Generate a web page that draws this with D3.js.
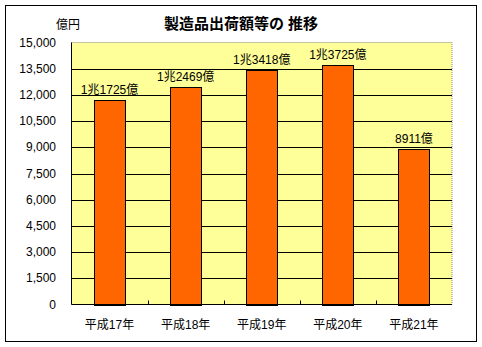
<!DOCTYPE html>
<html>
<head>
<meta charset="utf-8">
<script src="https://cdn.jsdelivr.net/npm/d3@7"></script>
<style>
body { margin: 0; background: #fff; }
svg text { font-family: "Liberation Sans", "Noto Sans CJK JP", sans-serif; }
</style>
</head>
<body>
<svg id="chart"></svg>
<script>
const width = 482;
const height = 347;

const categories = ["平成17年", "平成18年", "平成19年", "平成20年", "平成21年"];
const values = [11725, 12469, 13418, 13725, 8911];
const valueLabels = ["1兆1725億", "1兆2469億", "1兆3418億", "1兆3725億", "8911億"];
const yTicks = [0, 1500, 3000, 4500, 6000, 7500, 9000, 10500, 12000, 13500, 15000];

const svg = d3.select("#chart")
    .attr("width", width)
    .attr("height", height);

// outer frame
svg.append("rect")
    .attr("x", 5.5).attr("y", 5.5)
    .attr("width", 471).attr("height", 336)
    .attr("fill", "#fff")
    .attr("stroke", "#000");

const plot = { left: 71.5, top: 42.5, right: 452, bottom: 304.5 };

const x = d3.scaleBand()
    .domain(categories)
    .range([plot.left, plot.right])
    .paddingInner(0.59)
    .paddingOuter(0.295);

const xOuter = d3.scaleBand()
    .domain(categories)
    .range([plot.left, plot.right]);

const y = d3.scaleLinear()
    .domain([0, 15000])
    .range([plot.bottom, plot.top]);

// plot background
svg.append("rect")
    .attr("x", plot.left).attr("y", plot.top)
    .attr("width", plot.right - plot.left)
    .attr("height", plot.bottom - plot.top)
    .attr("fill", "#ffff99")
    .attr("stroke", "#888")
    .attr("stroke-dasharray", "1,1");

// gridlines
svg.selectAll(".grid")
    .data(yTicks.slice(1, -1))
    .enter().append("line")
    .attr("x1", plot.left).attr("x2", plot.right)
    .attr("y1", d => Math.round(y(d)) + 0.5)
    .attr("y2", d => Math.round(y(d)) + 0.5)
    .attr("stroke", "#000");

// bars
svg.selectAll(".bar")
    .data(values)
    .enter().append("rect")
    .attr("x", (d, i) => Math.round(x(categories[i])) + 0.5)
    .attr("y", d => Math.round(y(d)) + 0.5)
    .attr("width", Math.round(x.bandwidth()))
    .attr("height", d => Math.round(y(0)) - Math.round(y(d)))
    .attr("fill", "#ff6600")
    .attr("stroke", "#000");

// value labels
svg.selectAll(".vlabel")
    .data(values)
    .enter().append("text")
    .attr("x", (d, i) => x(categories[i]) + x.bandwidth() / 2)
    .attr("y", d => y(d) - 6)
    .attr("text-anchor", "middle")
    .attr("font-size", 12)
    .text((d, i) => valueLabels[i]);

// axes lines
svg.append("line")
    .attr("x1", plot.left).attr("x2", plot.left)
    .attr("y1", plot.top).attr("y2", plot.bottom)
    .attr("stroke", "#000");
svg.append("line")
    .attr("x1", plot.left).attr("x2", plot.right)
    .attr("y1", plot.bottom).attr("y2", plot.bottom)
    .attr("stroke", "#000");

// inward ticks between categories
svg.selectAll(".xtick")
    .data(categories.slice(1))
    .enter().append("line")
    .attr("x1", d => Math.round(xOuter(d)) + 0.5)
    .attr("x2", d => Math.round(xOuter(d)) + 0.5)
    .attr("y1", plot.bottom).attr("y2", plot.bottom - 4)
    .attr("stroke", "#000");

// y tick labels
svg.selectAll(".ylabel")
    .data(yTicks)
    .enter().append("text")
    .attr("x", 56)
    .attr("y", d => y(d) + 4)
    .attr("text-anchor", "end")
    .attr("font-size", 12)
    .text(d => d3.format(",")(d));

// x labels
svg.selectAll(".xlabel")
    .data(categories)
    .enter().append("text")
    .attr("x", d => xOuter(d) + xOuter.bandwidth() / 2)
    .attr("y", 329)
    .attr("text-anchor", "middle")
    .attr("font-size", 12)
    .text(d => d);

// unit and title
svg.append("text")
    .attr("x", 68).attr("y", 29)
    .attr("text-anchor", "middle")
    .attr("font-size", 12)
    .text("億円");

svg.append("text")
    .attr("x", 241).attr("y", 29)
    .attr("text-anchor", "middle")
    .attr("font-size", 15)
    .attr("font-weight", "bold")
    .text("製造品出荷額等の 推移");
</script>
</body>
</html>
